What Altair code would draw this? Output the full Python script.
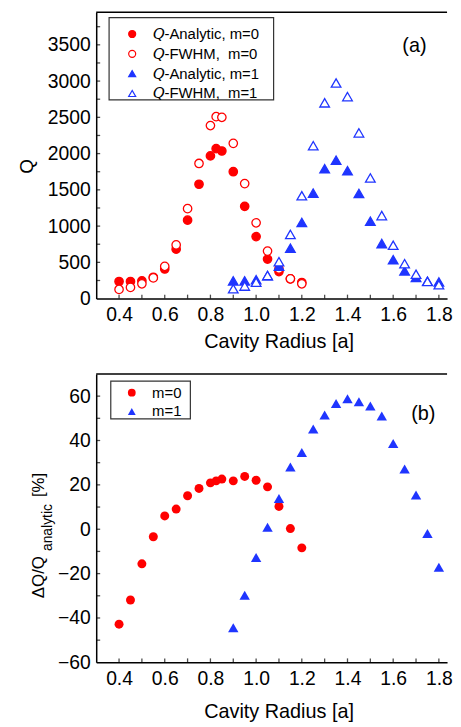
import altair as alt
import pandas as pd

# ---------------- data ----------------
radius_m0 = [0.40, 0.45, 0.50, 0.55, 0.60, 0.65, 0.70, 0.75, 0.80, 0.825, 0.85,
             0.90, 0.95, 1.00, 1.05, 1.10, 1.15, 1.20]
q_analytic_m0 = [236, 236, 245, 295, 409, 682, 1082, 1577, 1968, 2068, 2036,
                 1750, 1273, 855, 545, 373, 273, 222]
q_fwhm_m0 = [127, 155, 204, 286, 445, 741, 1241, 1864, 2386, 2509, 2500,
             2141, 1586, 1045, 655, 409, 273, 204]
dq_m0 = [-42.8, -31.9, -15.6, -3.4, 6.0, 9.1, 15.1, 18.4, 20.9, 21.8, 22.6,
         21.8, 23.8, 22.1, 19.1, 10.3, 0.3, -8.4]

radius_m1 = [0.90, 0.95, 1.00, 1.05, 1.10, 1.15, 1.20, 1.25, 1.30, 1.35, 1.40,
             1.45, 1.50, 1.55, 1.60, 1.65, 1.70, 1.75, 1.80]
q_analytic_m1 = [245, 245, 261, 315, 447, 695, 1050, 1455, 1791, 1909, 1764,
                 1450, 1068, 759, 536, 382, 291, 241, 230]
q_fwhm_m1 = [136, 173, 227, 318, 509, 886, 1418, 2109, 2700, 2973, 2786,
             2286, 1664, 1145, 736, 482, 336, 236, 191]
dq_m1 = [-44.4, -29.8, -12.7, 0.9, 13.9, 28.1, 34.6, 45.2, 51.5, 56.7, 58.8,
         57.5, 55.5, 51.0, 38.6, 27.2, 15.4, -1.9, -17.1]

top_series = ["\U0001D618-Analytic, m=0", "\U0001D618-FWHM,\u00a0 m=0",
              "\U0001D618-Analytic, m=1", "\U0001D618-FWHM,\u00a0 m=1"]
bot_series = ["m=0", "m=1"]

x_tick_labels = [0.4, 0.6, 0.8, 1.0, 1.2, 1.4, 1.6, 1.8]
x_minor = [0.4, 0.5, 0.6, 0.7, 0.8, 0.9, 1.0, 1.1, 1.2, 1.3, 1.4, 1.5, 1.6, 1.7, 1.8]
q_tick_labels = [0, 500, 1000, 1500, 2000, 2500, 3000, 3500]
q_minor = [250, 500, 750, 1000, 1250, 1500, 1750, 2000, 2250, 2500, 2750,
           3000, 3250, 3500, 3750]
dq_tick_labels = [-60, -40, -20, 0, 20, 40, 60]
dq_minor = [-50, -40, -30, -20, -10, 0, 10, 20, 30, 40, 50, 60]

RED = "#ff0000"
BLUE = "#1f35ff"
FONT = "Liberation Sans"
W = 354
H1 = 289
H2 = 291
X_DOMAIN = [0.3, 1.8358]
TOP_YDOM = [0, 3950]
BOT_YDOM = [-60, 70]

# ---------------- tables ----------------
top_df = pd.concat([
    pd.DataFrame({"x": radius_m0, "q": q_analytic_m0, "series": top_series[0], "m": 0}),
    pd.DataFrame({"x": radius_m0, "q": q_fwhm_m0, "series": top_series[1], "m": 0}),
    pd.DataFrame({"x": radius_m1, "q": q_analytic_m1, "series": top_series[2], "m": 1}),
    pd.DataFrame({"x": radius_m1, "q": q_fwhm_m1, "series": top_series[3], "m": 1}),
], ignore_index=True)

bot_df = pd.concat([
    pd.DataFrame({"x": radius_m0, "q": dq_m0, "series": bot_series[0], "m": 0}),
    pd.DataFrame({"x": radius_m1, "q": dq_m1, "series": bot_series[1], "m": 1}),
], ignore_index=True)

# ---------------- shared encodings ----------------
x_axis_top = alt.Axis(values=x_tick_labels, format=".1f", title="Cavity Radius [a]",
                      titleX=184, titleY=49, titleAlign="center", titleBaseline="alphabetic")
x_axis_bot = alt.Axis(values=x_tick_labels, format=".1f", title="Cavity Radius [a]",
                      titleX=184, titleY=56, titleAlign="center", titleBaseline="alphabetic")
y_axis_top = alt.Axis(values=q_tick_labels, format="d", title="Q",
                      titleX=-70, titleY=155, titleAngle=270,
                      titleAlign="center", titleBaseline="middle", titleFontSize=19)
y_axis_bot = alt.Axis(values=dq_tick_labels, format="d", title="")


def X(axis):
    return alt.X("x:Q", scale=alt.Scale(domain=X_DOMAIN, nice=False, zero=False), axis=axis)


def Y(domain, axis):
    return alt.Y("q:Q", scale=alt.Scale(domain=domain, nice=False, zero=False), axis=axis)


def decorations(h, yminor, ydomain, xaxis, yaxis, box):
    frame = alt.Chart(pd.DataFrame({"a": [0]})).mark_rule(
        color="black", strokeWidth=1.5).encode(
        x=alt.value(0), x2=alt.value(W), y=alt.value(0))
    xt = alt.Chart(pd.DataFrame({"x": x_minor})).mark_tick(
        color="black", thickness=1.3, size=4).encode(
        x=X(xaxis), y=alt.value(h - 2))
    yt = alt.Chart(pd.DataFrame({"q": yminor})).mark_tick(
        color="black", thickness=1.3, size=4).encode(
        y=Y(ydomain, yaxis), x=alt.value(2))
    legend_box = alt.Chart(pd.DataFrame({"a": [0]})).mark_rect(
        fill="white", stroke="#333333", strokeWidth=1.2).encode(
        x=alt.value(box[0]), x2=alt.value(box[1]), y=alt.value(box[2]), y2=alt.value(box[3]))
    return [frame, xt, yt, legend_box]


# ---------------- top panel ----------------
leg_top = alt.Legend(title=None, orient="none", legendX=28.8, legendY=14.5, padding=0,
                     symbolOffset=0, labelOffset=13, rowPadding=4,
                     labelFontSize=15, labelColor="black", labelFont=FONT,
                     symbolSize=50, symbolStrokeWidth=1.2)

top_enc = dict(
    x=X(x_axis_top),
    y=Y(TOP_YDOM, y_axis_top),
    stroke=alt.Stroke("series:N", scale=alt.Scale(domain=top_series, range=[RED, RED, BLUE, BLUE]),
                      legend=leg_top),
    fill=alt.Fill("series:N", scale=alt.Scale(domain=top_series, range=[RED, "white", BLUE, "white"]),
                  legend=leg_top),
    shape=alt.Shape("series:N", scale=alt.Scale(domain=top_series,
                                                range=["circle", "circle", "triangle-up", "triangle-up"]),
                    legend=leg_top),
)
top_circles = alt.Chart(top_df).transform_filter("datum.m == 0").mark_point(
    filled=False, opacity=1, size=72, strokeWidth=1.3).encode(**top_enc)
top_triangles = alt.Chart(top_df).transform_filter("datum.m == 1").mark_point(
    filled=False, opacity=1, size=95, strokeWidth=1.3).encode(**top_enc)

top_label = alt.Chart(pd.DataFrame({"x": [1.693], "q": [3477], "t": ["(a)"]})).mark_text(
    fontSize=20, align="center", baseline="middle", color="black", font=FONT).encode(
    x=X(x_axis_top), y=Y(TOP_YDOM, y_axis_top), text="t:N")

top = alt.layer(*decorations(H1, q_minor, TOP_YDOM, x_axis_top, y_axis_top, (13, 179, 5.5, 88.5)),
                top_circles, top_triangles, top_label).properties(width=W, height=H1)

# ---------------- bottom panel ----------------
leg_bot = alt.Legend(title=None, orient="none", legendX=28.4, legendY=11.4, padding=0,
                     symbolOffset=0, labelOffset=13, rowPadding=3,
                     labelFontSize=15, labelColor="black", labelFont=FONT,
                     symbolSize=62)

bot_enc = dict(
    x=X(x_axis_bot),
    y=Y(BOT_YDOM, y_axis_bot),
    color=alt.Color("series:N", scale=alt.Scale(domain=bot_series, range=[RED, BLUE]), legend=leg_bot),
    shape=alt.Shape("series:N", scale=alt.Scale(domain=bot_series, range=["circle", "triangle-up"]),
                    legend=leg_bot),
)
bot_circles = alt.Chart(bot_df).transform_filter("datum.m == 0").mark_point(
    filled=True, opacity=1, size=82).encode(**bot_enc)
bot_triangles = alt.Chart(bot_df).transform_filter("datum.m == 1").mark_point(
    filled=True, opacity=1, size=110).encode(**bot_enc)

bot_label = alt.Chart(pd.DataFrame({"x": [1.732], "q": [51.8], "t": ["(b)"]})).mark_text(
    fontSize=20, align="center", baseline="middle", color="black", font=FONT).encode(
    x=X(x_axis_bot), y=Y(BOT_YDOM, y_axis_bot), text="t:N")

title_main = alt.Chart(pd.DataFrame({"a": [0]})).mark_text(
    text="\u0394Q/Q", angle=270, fontSize=17, align="center", baseline="middle",
    color="black", font=FONT).encode(x=alt.value(-57.5), y=alt.value(205))
title_sub = alt.Chart(pd.DataFrame({"a": [0]})).mark_text(
    text="analytic", angle=270, fontSize=14, align="center", baseline="middle",
    color="black", font=FONT).encode(x=alt.value(-49), y=alt.value(155))
title_unit = alt.Chart(pd.DataFrame({"a": [0]})).mark_text(
    text="[%]", angle=270, fontSize=17, align="center", baseline="middle",
    color="black", font=FONT).encode(x=alt.value(-57.5), y=alt.value(112))

bottom = alt.layer(*decorations(H2, dq_minor, BOT_YDOM, x_axis_bot, y_axis_bot, (14.7, 95, 7.3, 45.3)),
                   bot_circles, bot_triangles, bot_label, title_main, title_sub,
                   title_unit).properties(width=W, height=H2)

chart = alt.vconcat(top, bottom, spacing=76, bounds="flush").resolve_scale(
    color="independent", shape="independent", fill="independent", stroke="independent"
).resolve_legend(
    color="independent", shape="independent", fill="independent", stroke="independent"
).properties(
    padding={"left": 10, "top": 0, "right": 0, "bottom": 2}
).configure(font=FONT).configure_view(stroke=None).configure_axis(
    domainColor="black", domainWidth=1.5, ticks=False, tickSize=0, grid=False,
    labelFont=FONT, labelFontSize=19.5, labelColor="black", labelPadding=7,
    titleFont=FONT, titleFontSize=20, titleColor="black", titleFontWeight="normal"
).configure_axisY(labelPadding=6)

chart.save("out.html", embed_options={"renderer": "svg", "actions": False})
